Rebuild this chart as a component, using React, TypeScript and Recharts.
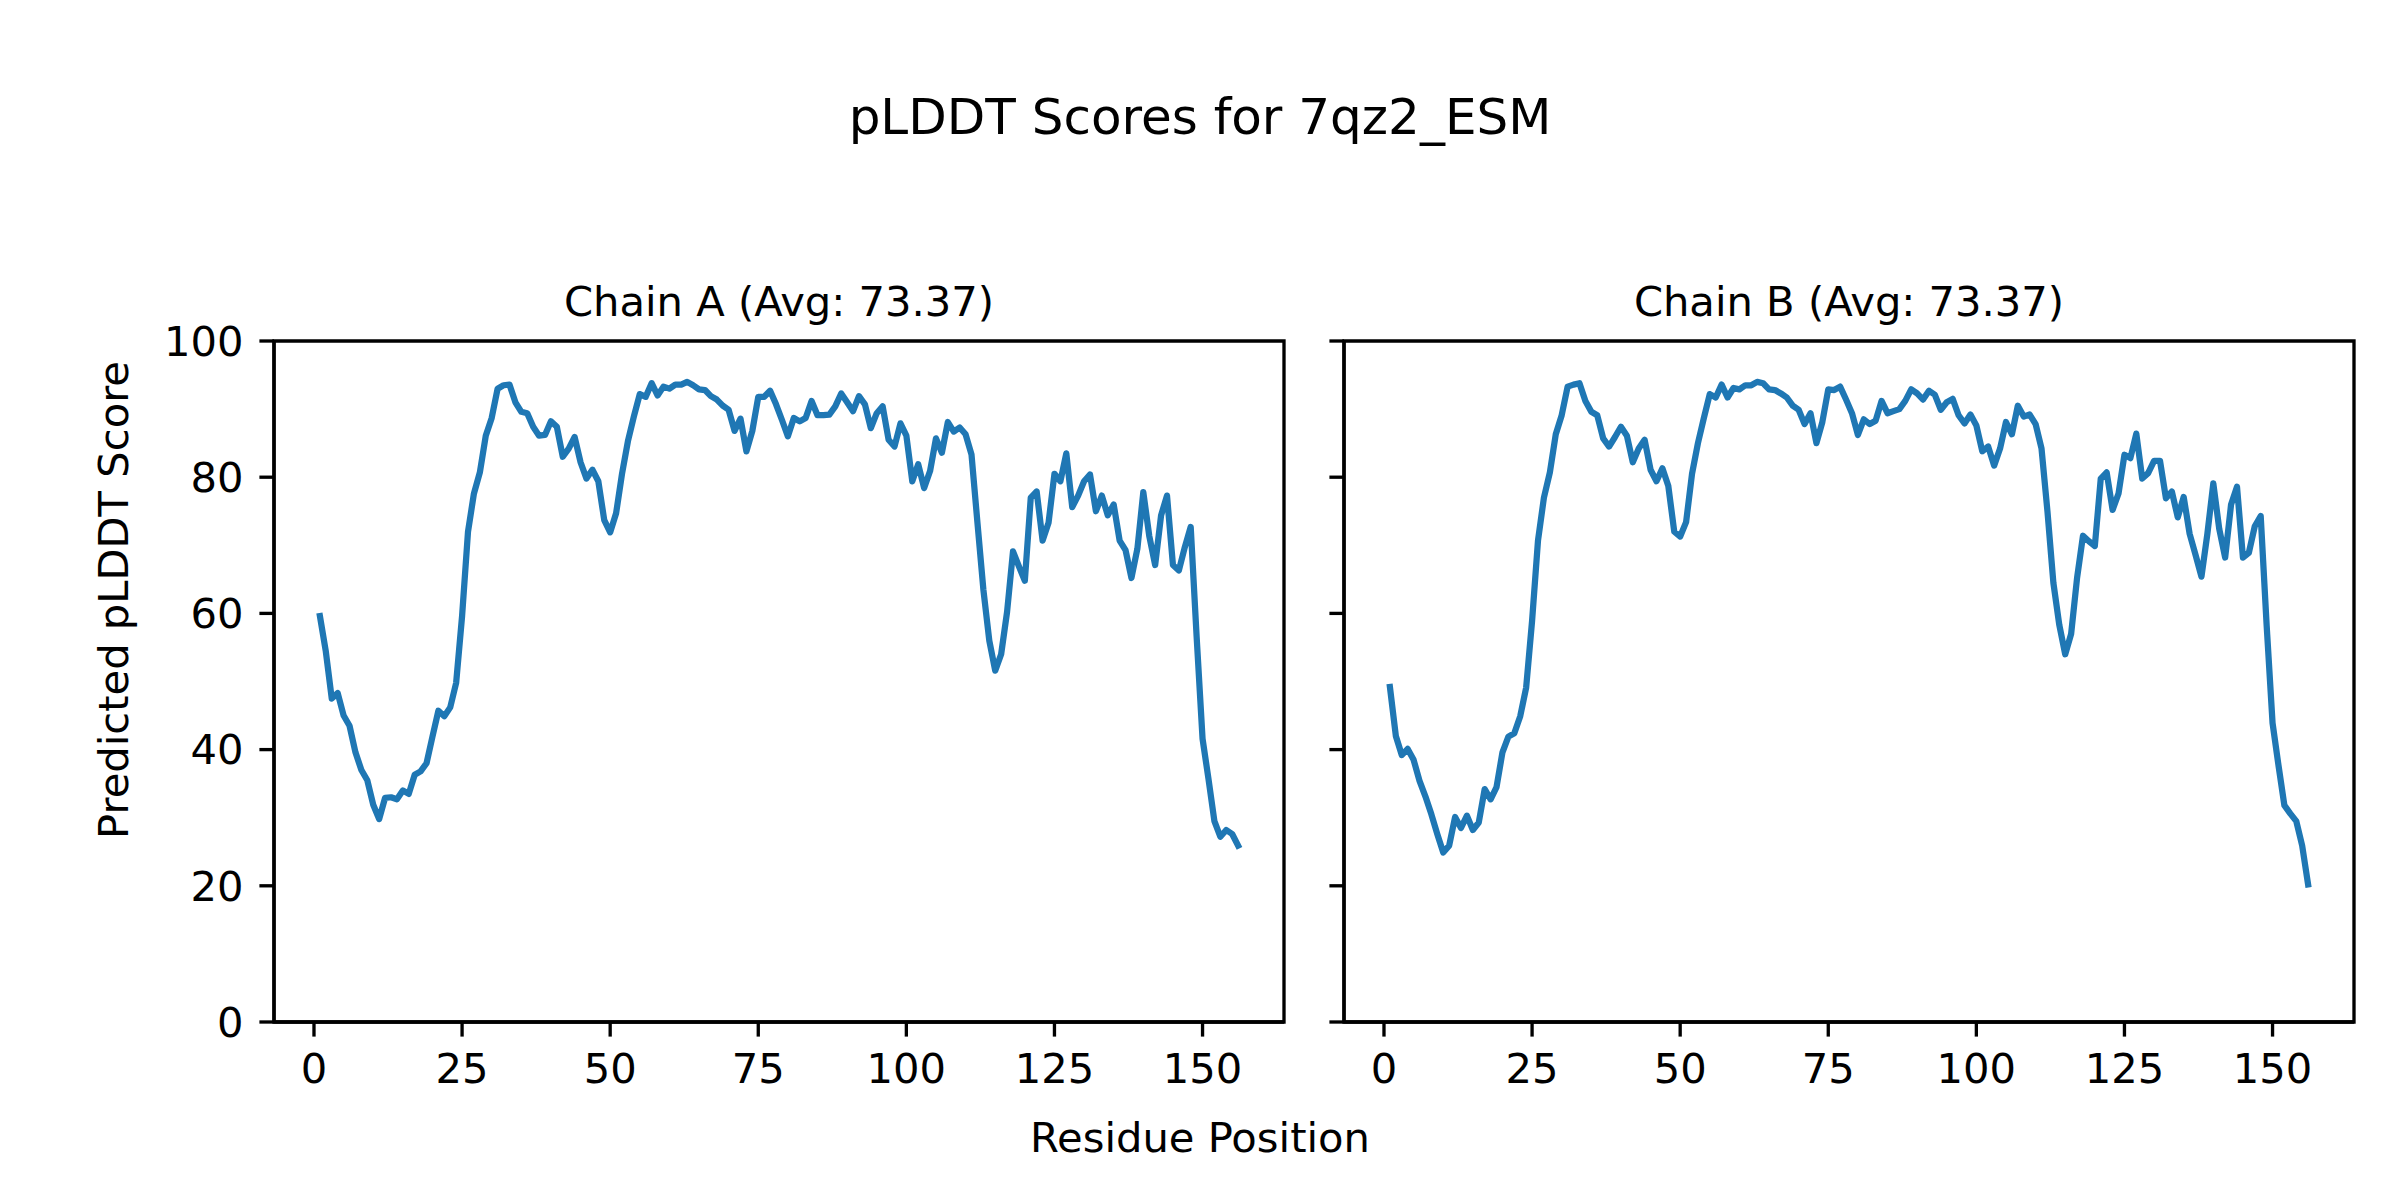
import React from 'react';
import { LineChart, Line, XAxis, YAxis, ReferenceArea } from 'recharts';

const chainAScores: number[] = [
  59.6, 54.4, 47.5, 48.3, 45.0, 43.5, 39.6, 37.0, 35.5, 31.9,
  29.8, 32.9, 33.0, 32.7, 34.0, 33.5, 36.3, 36.8, 38.0, 41.9,
  45.7, 44.9, 46.2, 49.8, 59.6, 72.0, 77.6, 80.7, 86.1, 88.7,
  93.0, 93.5, 93.6, 91.0, 89.6, 89.4, 87.4, 86.1, 86.2, 88.2,
  87.4, 83.0, 84.2, 85.9, 82.2, 79.8, 81.1, 79.4, 73.7, 71.9,
  74.7, 80.5, 85.3, 88.9, 92.2, 91.8, 93.8, 92.0, 93.3, 93.0,
  93.6, 93.6, 94.0, 93.5, 92.9, 92.8, 91.9, 91.4, 90.5, 89.9,
  86.8, 88.6, 83.8, 86.8, 91.8, 91.8, 92.7, 90.7, 88.4, 86.0,
  88.7, 88.2, 88.7, 91.2, 89.1, 89.1, 89.2, 90.4, 92.3, 91.0,
  89.7, 91.9, 90.7, 87.2, 89.4, 90.4, 85.5, 84.5, 87.9, 86.1,
  79.4, 81.9, 78.4, 80.9, 85.7, 83.6, 88.1, 86.7, 87.3, 86.3,
  83.3, 73.3, 63.5, 56.0, 51.6, 54.0, 60.2, 69.1, 66.9, 64.8,
  77.0, 77.9, 70.7, 73.3, 80.5, 79.4, 83.5, 75.6, 77.3, 79.4,
  80.4, 75.0, 77.3, 74.4, 76.0, 70.7, 69.3, 65.2, 69.5, 77.8,
  71.4, 67.1, 74.4, 77.3, 67.1, 66.3, 69.7, 72.7, 56.6, 41.6,
  35.7, 29.5, 27.2, 28.2, 27.6, 25.9,
];

const chainBScores: number[] = [
  49.2, 42.0, 39.2, 40.1, 38.5, 35.4, 33.1, 30.5, 27.6, 24.9,
  25.9, 30.1, 28.5, 30.3, 28.2, 29.3, 34.2, 32.7, 34.5, 39.6,
  41.9, 42.4, 44.9, 49.1, 58.9, 70.7, 77.0, 80.7, 86.3, 89.1,
  93.3, 93.6, 93.8, 91.2, 89.6, 89.1, 85.7, 84.5, 85.9, 87.4,
  86.1, 82.2, 84.2, 85.5, 81.1, 79.4, 81.3, 78.7, 72.0, 71.3,
  73.4, 80.5, 85.0, 88.7, 92.2, 91.7, 93.6, 91.7, 93.1, 92.9,
  93.5, 93.5, 94.0, 93.8, 92.9, 92.8, 92.3, 91.7, 90.5, 89.9,
  87.8, 89.4, 85.0, 88.1, 92.9, 92.8, 93.3, 91.4, 89.4, 86.2,
  88.5, 87.8, 88.3, 91.2, 89.4, 89.7, 90.0, 91.2, 92.9, 92.3,
  91.4, 92.7, 92.1, 89.9, 91.0, 91.5, 89.1, 87.9, 89.2, 87.6,
  83.8, 84.5, 81.7, 84.2, 88.1, 86.3, 90.5, 88.9, 89.2, 87.8,
  84.2, 75.0, 64.5, 58.3, 54.0, 57.0, 65.2, 71.4, 70.6, 69.9,
  79.8, 80.7, 75.2, 77.6, 83.3, 82.8, 86.4, 79.8, 80.6, 82.4,
  82.4, 76.9, 77.9, 74.1, 77.1, 71.7, 68.6, 65.4, 71.7, 79.1,
  72.4, 68.2, 76.0, 78.6, 68.2, 68.9, 72.8, 74.3, 58.3, 43.9,
  37.7, 31.8, 30.6, 29.5, 25.9, 20.2,
];

const xTicks: number[] = [0, 25, 50, 75, 100, 125, 150];
const yTicks: number[] = [0, 20, 40, 60, 80, 100];
const xDomain: [number, number] = [-6.75, 163.75];
const yDomain: [number, number] = [0, 100];

const figureTitle = 'pLDDT Scores for 7qz2_ESM';
const chainATitle = 'Chain A (Avg: 73.37)';
const chainBTitle = 'Chain B (Avg: 73.37)';
const xLabel = 'Residue Position';
const yLabel = 'Predicted pLDDT Score';

const toRows = (scores: number[]) => scores.map((v, i) => ({ pos: i + 1, score: v }));
const dataA = toRows(chainAScores);
const dataB = toRows(chainBScores);

const FONT = '"DejaVu Sans", sans-serif';
const TICK_FS = 41.67;
const LW = 3.33;
const LINE_COLOR = '#1f77b4';

interface PanelProps {
  data: { pos: number; score: number }[];
  width: number;
  margin: { top: number; right: number; bottom: number; left: number };
  yAxisWidth: number;
  showYLabels: boolean;
}

function Panel({ data, width, margin, yAxisWidth, showYLabels }: PanelProps) {
  const tickStyle = { fontSize: TICK_FS, fill: '#000', fontFamily: FONT };
  return (
    <LineChart width={width} height={1200} data={data} margin={margin}>
      <XAxis
        dataKey="pos"
        type="number"
        domain={xDomain}
        ticks={xTicks}
        allowDataOverflow
        height={60}
        tickSize={14.6}
        tickMargin={16.5}
        axisLine={{ stroke: '#000', strokeWidth: LW }}
        tickLine={{ stroke: '#000', strokeWidth: LW }}
        tick={tickStyle}
        interval={0}
      />
      <YAxis
        type="number"
        domain={yDomain}
        ticks={yTicks}
        allowDataOverflow
        width={yAxisWidth}
        tickSize={14.6}
        tickMargin={16}
        axisLine={{ stroke: '#000', strokeWidth: LW }}
        tickLine={{ stroke: '#000', strokeWidth: LW }}
        tick={tickStyle}
        tickFormatter={showYLabels ? undefined : () => ''}
        interval={0}
      />
      <Line
        dataKey="score"
        type="linear"
        stroke={LINE_COLOR}
        strokeWidth={6.25}
        dot={false}
        activeDot={false}
        strokeLinejoin="round"
        strokeLinecap="square"
        isAnimationActive={false}
      />
      <ReferenceArea
        x1={xDomain[0]}
        x2={xDomain[1]}
        y1={yDomain[0]}
        y2={yDomain[1]}
        fill="none"
        fillOpacity={0}
        stroke="#000"
        strokeWidth={LW}
        strokeOpacity={1}
        ifOverflow="visible"
      />
    </LineChart>
  );
}

export default function App() {
  return (
    <div
      style={{
        position: 'absolute',
        left: 0,
        top: 0,
        width: 2400,
        height: 1200,
        background: '#fff',
        overflow: 'hidden',
      }}
    >
      <div style={{ position: 'absolute', left: 0, top: 0, width: 1320, height: 1200 }}>
        <Panel
          data={dataA}
          width={1320}
          margin={{ top: 341, right: 36, bottom: 1200 - 1022 - 60, left: 274 - 100 }}
          yAxisWidth={100}
          showYLabels={true}
        />
      </div>
      <div style={{ position: 'absolute', left: 1320, top: 0, width: 1080, height: 1200 }}>
        <Panel
          data={dataB}
          width={1080}
          margin={{ top: 341, right: 46, bottom: 1200 - 1022 - 60, left: 4 }}
          yAxisWidth={20}
          showYLabels={false}
        />
      </div>
      <svg
        width={2400}
        height={1200}
        style={{ position: 'absolute', left: 0, top: 0, pointerEvents: 'none' }}
        fontFamily={FONT}
      >
        <text x={1200} y={134} textAnchor="middle" fontSize={50} fill="#000">
          {figureTitle}
        </text>
        <text x={779} y={316} textAnchor="middle" fontSize={41.67} fill="#000">
          {chainATitle}
        </text>
        <text x={1849} y={316} textAnchor="middle" fontSize={41.67} fill="#000">
          {chainBTitle}
        </text>
        <text
          x={128}
          y={600}
          textAnchor="middle"
          fontSize={41.67}
          fill="#000"
          transform="rotate(-90, 128, 600)"
        >
          {yLabel}
        </text>
        <text x={1200} y={1152} textAnchor="middle" fontSize={41.67} fill="#000">
          {xLabel}
        </text>
      </svg>
    </div>
  );
}
